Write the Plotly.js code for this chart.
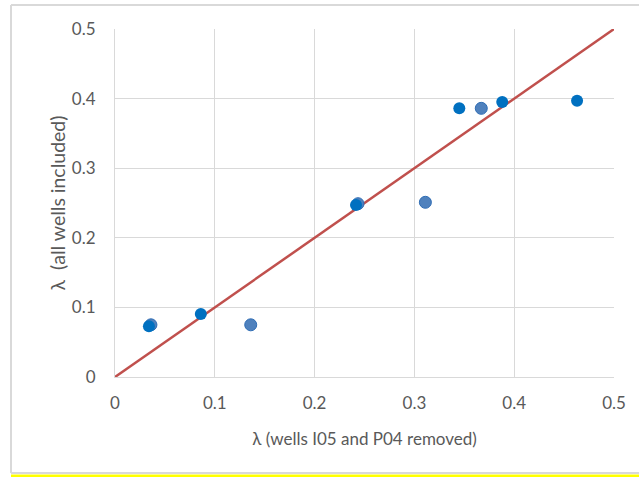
<!DOCTYPE html>
<html>
<head>
<meta charset="utf-8">
<script src="https://cdn.plot.ly/plotly-3.0.1.min.js"></script>
<style>html,body{margin:0;padding:0;background:#fff;}#chart{width:639px;height:477px;}</style>
</head>
<body>
<div id="chart"></div>
<script>
// Series A (dark blue points)
var seriesA_x = [0.034, 0.086, 0.2415, 0.345, 0.388, 0.463];
var seriesA_y = [0.073, 0.0905, 0.247, 0.386, 0.395, 0.397];
// Series B (lighter blue points)
var seriesB_x = [0.036, 0.136, 0.2435, 0.311, 0.367];
var seriesB_y = [0.075, 0.075, 0.249, 0.251, 0.386];
// 1:1 line
var line_x = [0, 0.5];
var line_y = [0, 0.5];
var tickVals = [0, 0.1, 0.2, 0.3, 0.4, 0.5];
var tickText = ['0', '0.1', '0.2', '0.3', '0.4', '0.5'];

var W = 639, H = 477;
var m = {l: 115, r: 25, t: 29, b: 100};
var pw = W - m.l - m.r, ph = H - m.t - m.b;
function px(x){ return (x - m.l) / pw; }
function py(y){ return (H - m.b - y) / ph; }

var font = 'Lato, "Open Sans", "Liberation Sans", sans-serif';

var traces = [
  {x: line_x, y: line_y, mode: 'lines', line: {color: '#C0504D', width: 2.5}, hoverinfo: 'skip'},
  {x: seriesB_x, y: seriesB_y, mode: 'markers', marker: {color: '#4F81BD', size: 12, line: {color: '#2F6DB5', width: 1}}},
  {x: seriesA_x, y: seriesA_y, mode: 'markers', marker: {color: '#0070C0', size: 12, line: {width: 0}}}
];

var layout = {
  width: W, height: H,
  margin: m,
  showlegend: false,
  paper_bgcolor: '#fff',
  plot_bgcolor: '#fff',
  font: {family: font, color: '#595959', size: 17},
  xaxis: {
    range: [0, 0.5], tickvals: tickVals, ticktext: tickText,
    showgrid: true, gridcolor: '#D9D9D9', gridwidth: 1,
    zeroline: false, showline: true, linecolor: '#D9D9D9', linewidth: 1, mirror: false,
    ticks: '', tickfont: {size: 17, color: '#595959'}, ticklabelstandoff: 11,
    title: {text: 'λ (wells I05 and P04 removed)', font: {size: 17, color: '#595959'}, standoff: 20},
    fixedrange: true
  },
  yaxis: {
    range: [0, 0.5], tickvals: tickVals, ticktext: tickText,
    showgrid: true, gridcolor: '#D9D9D9', gridwidth: 1,
    zeroline: false, showline: true, linecolor: '#D9D9D9', linewidth: 1,
    ticks: '', tickfont: {size: 17, color: '#595959'}, ticklabelstandoff: 15,
    title: {text: 'λ  (all wells included)', font: {size: 19.5, color: '#595959'}, standoff: 1},
    fixedrange: true
  },
  shapes: [
    {type: 'line', xref: 'paper', yref: 'paper', x0: px(11), x1: px(11), y0: py(5), y1: py(473), line: {color: '#D9D9D9', width: 2}},
    {type: 'line', xref: 'paper', yref: 'paper', x0: px(11), x1: px(641), y0: py(5), y1: py(5), line: {color: '#D9D9D9', width: 2}},
    {type: 'line', xref: 'paper', yref: 'paper', x0: px(11), x1: px(641), y0: py(473), y1: py(473), line: {color: '#D9D9D9', width: 2}},
    {type: 'line', xref: 'paper', yref: 'paper', x0: px(11), x1: px(641), y0: py(476), y1: py(476), line: {color: '#FFFF00', width: 3}}
  ]
};

Plotly.newPlot('chart', traces, layout, {staticPlot: true, displayModeBar: false});
</script>
</body>
</html>
